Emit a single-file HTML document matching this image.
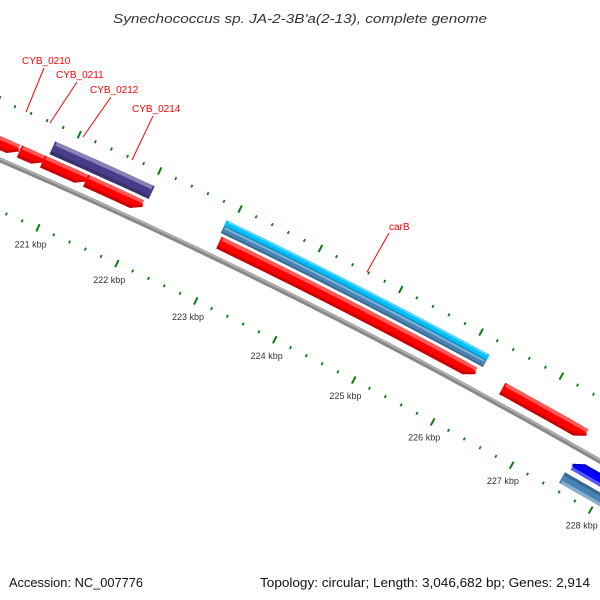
<!DOCTYPE html>
<html><head><meta charset="utf-8"><style>
html,body{margin:0;padding:0;background:#fff}
svg{display:block}
text{font-family:"Liberation Sans",sans-serif}
</style></head><body>
<svg id="map" width="600" height="600" viewBox="0 0 600 600" xmlns="http://www.w3.org/2000/svg">
<text x="113" y="23" textLength="374" lengthAdjust="spacingAndGlyphs" font-size="13" font-style="italic" fill="#333">Synechococcus sp. JA-2-3B'a(2-13), complete genome</text>
<g id="ticks"></g>
<g id="backbone"></g>
<g id="genes"></g>
<g id="labels">
<g><line x1="44" y1="68" x2="26" y2="112" stroke="#f00" stroke-width="1"/><text x="22" y="64" font-size="10" fill="#f00">CYB_0210</text></g>
<g><line x1="77" y1="82" x2="50" y2="123" stroke="#f00" stroke-width="1"/><text x="56" y="78" font-size="10" fill="#f00">CYB_0211</text></g>
<g><line x1="111" y1="97" x2="83" y2="137" stroke="#f00" stroke-width="1"/><text x="90" y="93" font-size="10" fill="#f00">CYB_0212</text></g>
<g><line x1="153" y1="116" x2="132" y2="160" stroke="#f00" stroke-width="1"/><text x="132" y="112" font-size="10" fill="#f00">CYB_0214</text></g>
<g><line x1="389" y1="233" x2="367" y2="272" stroke="#f00" stroke-width="1"/><text x="389" y="230" font-size="10" fill="#f00">carB</text></g>
</g>
<text x="9" y="587" textLength="134" lengthAdjust="spacingAndGlyphs" font-size="13" fill="#111">Accession: NC_007776</text>
<text x="260" y="587" textLength="330" lengthAdjust="spacingAndGlyphs" font-size="13" fill="#111">Topology: circular; Length: 3,046,682 bp; Genes: 2,914</text>
</svg>
<script>
// data (kbp positions)
const geneStarts = [220.0, 220.45, 220.74, 221.28, 220.78, 222.92, 222.92, 222.95, 226.5, 227.57, 227.55];
const geneEnds   = [220.45, 220.76, 221.3, 222.0, 222.02, 226.2, 226.2, 226.17, 227.56, 228.7, 228.7];
const geneStrand = [1, 1, 1, 1, 1, 1, 1, 1, 1, -1, -1];
const geneColors = ["#ff0000","#ff0000","#ff0000","#ff0000","#483d8b","#00bfff","#4682b4","#ff0000","#ff0000","#0000ff","#4682b4"];
const geneSlots  = ["fwd","fwd","fwd","fwd","fwdOuter","fwdTop","fwdMid","fwd","fwd","rev","revOuter"];
const geneArrow  = [1,1,1,1,0,0,0,1,1,1,0];
const tickLabels = ["221 kbp","222 kbp","223 kbp","224 kbp","225 kbp","226 kbp","227 kbp","228 kbp"];
const tickLabelPos = [221,222,223,224,225,226,227,228];

const NS="http://www.w3.org/2000/svg";
const slotD = {fwd:[9,22], fwdOuter:[25,39], fwdTop:[32,39], fwdMid:[25,32], rev:[-10,-22], revOuter:[-27,-39]};
function X(t){return 57+79.6*(t-221);}
function Y(x){return 160+0.43*x+0.00012*x*x;}
function P(t,d){const x=X(t),y=Y(x),s=0.43+0.00024*x,n=Math.sqrt(1+s*s);return [x+d*s/n,y-d/n];}
function mk(tag,attrs,parent){const e=document.createElementNS(NS,tag);for(const k in attrs)e.setAttribute(k,attrs[k]);parent.appendChild(e);return e;}
function shade(c,f){const v=parseInt(c.slice(1),16);let r=v>>16,g=(v>>8)&255,b=v&255;
 if(f>0){r+= (255-r)*f;g+=(255-g)*f;b+=(255-b)*f;}else{r*=1+f;g*=1+f;b*=1+f;}
 return "rgb("+Math.round(r)+","+Math.round(g)+","+Math.round(b)+")";}
function band(t0,t1,d0,d1,arrow,strand){
 const pts=[],N=16;const ah=0.13;
 let a0=t0,a1=t1;
 if(arrow&&strand>0)a1=t1-ah; if(arrow&&strand<0)a0=t0+ah;
 for(let i=0;i<=N;i++)pts.push(P(a0+(a1-a0)*i/N,d1));
 if(arrow&&strand>0)pts.push(P(t1,(d0+d1)/2));
 for(let i=N;i>=0;i--)pts.push(P(a0+(a1-a0)*i/N,d0));
 if(arrow&&strand<0)pts.push(P(t0,(d0+d1)/2));
 return pts.map(p=>p[0].toFixed(1)+","+p[1].toFixed(1)).join(" ");
}
// backbone
const bbG=document.getElementById('backbone');
let bb=[];for(let t=219.2;t<=229.2;t+=0.1)bb.push(P(t,0));
const bbl=mk('polyline',{points:bb.map(p=>p.join(",")).join(" "),fill:"none",stroke:"#888","stroke-width":5},bbG);


let bb2=[];for(let t=219.2;t<=229.2;t+=0.1)bb2.push(P(t,1.2));
mk('polyline',{points:bb2.map(p=>p.join(",")).join(" "),fill:"none",stroke:"#b5b5b5","stroke-width":1.5},bbG);
// ticks
const tG=document.getElementById('ticks');
for(let k=0;k<=50;k++){
 const t=219.2+k*0.2;const major=Math.abs(t-Math.round(t))<0.01;
 [[55,1],[-47,-1]].forEach(([d,dir])=>{
  const L=major?8:3;const a=P(t,d-L/2),b=P(t,d+L/2);
  const ln=mk('line',{x1:a[0],y1:a[1],x2:b[0],y2:b[1],stroke:"#0a7d0a","stroke-width":major?2:1.8},tG);
  
  
 });
}
tickLabels.forEach((lab,i)=>{
 const p=P(tickLabelPos[i],-65);
 const tx=mk('text',{x:p[0].toFixed(1),y:(p[1]+3).toFixed(1),"text-anchor":"middle","font-size":9,fill:"#333"},tG);
 tx.textContent=lab;
 
 
});
// genes
const gG=document.getElementById('genes');
geneStarts.forEach((s,i)=>{
 const e=geneEnds[i],c=geneColors[i],[d0,d1]=slotD[geneSlots[i]],st=geneStrand[i],ar=geneArrow[i];
 const g=mk('g',{},gG);
 
 
 mk('polygon',{points:band(s,e,d0,d1,ar,st),fill:shade(c,-0.2)},g);
 const w=d1-d0;
 mk('polygon',{points:band(s,e,d0+w*0.25,d1,ar,st),fill:c},g);
 mk('polygon',{points:band(s+0.02,e-0.02,d1-w*0.28,d1,0,st),fill:shade(c,0.35)},g);
});
</script>
</body></html>
